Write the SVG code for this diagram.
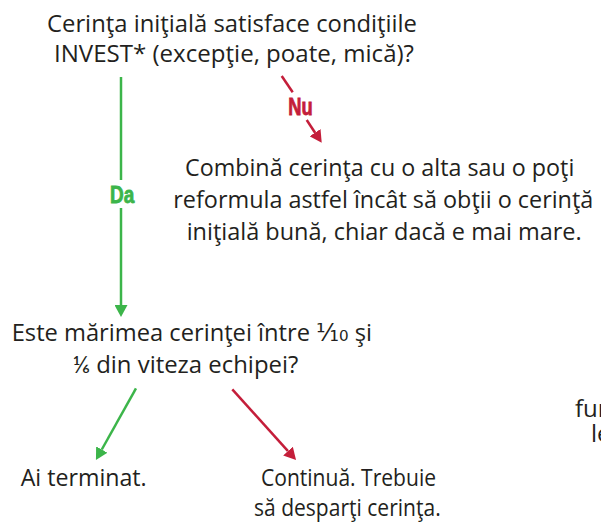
<svg xmlns="http://www.w3.org/2000/svg" width="601" height="523" viewBox="0 0 601 523">
<style>
  .t { font-family: "Open Sans", Lato, "DejaVu Sans", sans-serif; font-size: 24px; fill: #231f20; }
  .lbl { font-family: "Liberation Sans", Arial, sans-serif; font-weight: bold; font-size: 23px; stroke-width: 0.8; }
  .g { stroke: #3cb54a; stroke-width: 2.5; fill: none; }
  .r { stroke: #c41e3a; stroke-width: 2.5; fill: none; }
</style>
<defs>
  <marker id="ag" markerUnits="userSpaceOnUse" markerWidth="13" markerHeight="13" refX="0" refY="6.5" orient="auto" viewBox="0 0 13 13">
    <path d="M0,0 L12,6.5 L0,13 z" fill="#3cb54a"/>
  </marker>
  <marker id="ar" markerUnits="userSpaceOnUse" markerWidth="13" markerHeight="13" refX="0" refY="6.5" orient="auto" viewBox="0 0 13 13">
    <path d="M0,0 L12,6.5 L0,13 z" fill="#c41e3a"/>
  </marker>
</defs>
<rect width="601" height="523" fill="#ffffff"/>
<g id="connectors">
  <line class="g" x1="121" y1="77" x2="121" y2="180"/>
  <line class="g" x1="121" y1="208" x2="121" y2="305" marker-end="url(#ag)"/>
  <text class="lbl" x="110" y="202.7" fill="#3cb54a" stroke="#3cb54a" textLength="24.3" lengthAdjust="spacingAndGlyphs">Da</text>
  <line class="r" x1="281.7" y1="76" x2="292.7" y2="92.3"/>
  <line class="r" x1="306.7" y1="120" x2="315.1" y2="132.7" marker-end="url(#ar)"/>
  <text class="lbl" x="288.3" y="115" fill="#c41e3a" stroke="#c41e3a" textLength="24.4" lengthAdjust="spacingAndGlyphs">Nu</text>
  <line class="g" x1="136" y1="388.3" x2="101.8" y2="449.5" marker-end="url(#ag)"/>
  <line class="r" x1="232.3" y1="389.3" x2="288" y2="451.1" marker-end="url(#ar)"/>
</g>
<g id="n-invest">
  <text class="t" x="47" y="31.7" textLength="370" lengthAdjust="spacingAndGlyphs">Cerinţa iniţială satisface condiţiile</text>
  <text class="t" x="54" y="61.7" textLength="360" lengthAdjust="spacingAndGlyphs">INVEST* (excepţie, poate, mică)?</text>
</g>
<g id="n-combina">
  <text class="t" x="185" y="176" textLength="389.3" lengthAdjust="spacingAndGlyphs">Combină cerinţa cu o alta sau o poţi</text>
  <text class="t" x="173.3" y="208.3" textLength="420" lengthAdjust="spacingAndGlyphs">reformula astfel încât să obţii o cerinţă</text>
  <text class="t" x="186.7" y="240" textLength="395" lengthAdjust="spacingAndGlyphs">iniţială bună, chiar dacă e mai mare.</text>
</g>
<g id="n-marime">
  <text class="t" x="11.7" y="341" textLength="360.3" lengthAdjust="spacingAndGlyphs">Este mărimea cerinţei între ⅒ şi</text>
  <text class="t" x="72.7" y="373" textLength="225.6" lengthAdjust="spacingAndGlyphs">⅙ din viteza echipei?</text>
</g>
<g id="n-terminat">
  <text class="t" x="20.7" y="486" textLength="126" lengthAdjust="spacingAndGlyphs">Ai terminat.</text>
</g>
<g id="n-continua">
  <text class="t" x="261" y="486" textLength="175" lengthAdjust="spacingAndGlyphs">Continuă. Trebuie</text>
  <text class="t" x="254" y="516" textLength="186.7" lengthAdjust="spacingAndGlyphs">să desparţi cerinţa.</text>
</g>
<g id="n-partial">
  <text class="t" x="575" y="416.7">fun</text>
  <text class="t" x="591" y="441.7">le</text>
</g>
</svg>
